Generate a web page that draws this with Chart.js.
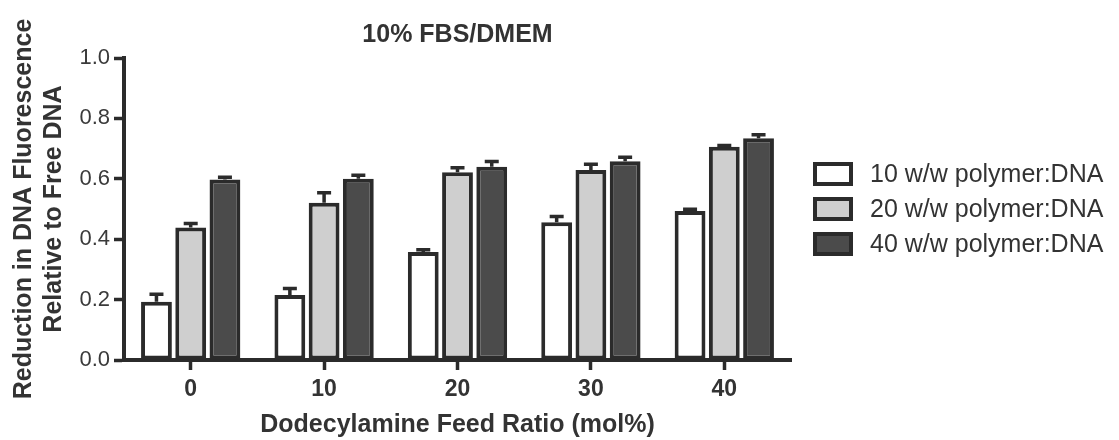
<!DOCTYPE html>
<html>
<head>
<meta charset="utf-8">
<script src="https://cdn.jsdelivr.net/npm/chart.js@4.4.1/dist/chart.umd.min.js"></script>
<style>
  body { margin: 0; background: #fff; }
</style>
</head>
<body>
<canvas id="fluorChart" width="1119" height="440"></canvas>
<script>
// feed ratio groups and the three polymer:DNA ratios
const feedRatios = ['0', '10', '20', '30', '40'];
const yTickLabels = ['0.0', '0.2', '0.4', '0.6', '0.8', '1.0'];

const ww10 = [0.193, 0.215, 0.358, 0.456, 0.493];
const ww10Err = [0.025, 0.022, 0.007, 0.019, 0.006];
const ww20 = [0.439, 0.521, 0.622, 0.629, 0.706];
const ww20Err = [0.013, 0.033, 0.015, 0.019, 0.004];
const ww40 = [0.598, 0.600, 0.640, 0.658, 0.734];
const ww40Err = [0.007, 0.012, 0.017, 0.013, 0.012];

const FONT = '"Liberation Sans", Arial, sans-serif';
const INK = '#2b2b2b';

// upper error bars (SD) on top of each bar
const errorBars = {
  id: 'errorBars',
  afterDatasetsDraw(chart) {
    const { ctx } = chart;
    const yScale = chart.scales.y;
    chart.data.datasets.forEach((ds, i) => {
      const meta = chart.getDatasetMeta(i);
      meta.data.forEach((bar, j) => {
        const top = yScale.getPixelForValue(ds.data[j] + ds.errors[j]);
        ctx.save();
        ctx.strokeStyle = INK;
        ctx.lineWidth = 3.5;
        ctx.beginPath();
        ctx.moveTo(bar.x, bar.y);
        ctx.lineTo(bar.x, top);
        ctx.moveTo(bar.x - 7, top);
        ctx.lineTo(bar.x + 7, top);
        ctx.stroke();
        ctx.restore();
      });
    });
  }
};

// legend to the right of the plot
const sideLegend = {
  id: 'sideLegend',
  afterDraw(chart) {
    const { ctx, chartArea } = chart;
    const sets = chart.data.datasets;
    const rowH = 35;
    const x = chartArea.right + 22;
    let y = (chartArea.top + chartArea.bottom) / 2 - rowH * (sets.length - 1) / 2;
    sets.forEach(ds => {
      ctx.save();
      ctx.fillStyle = ds.backgroundColor;
      ctx.fillRect(x, y - 12, 40, 24);
      ctx.lineWidth = 4;
      ctx.strokeStyle = ds.borderColor;
      ctx.strokeRect(x + 2, y - 10, 36, 20);
      ctx.fillStyle = '#333';
      ctx.font = '25px ' + FONT;
      ctx.textBaseline = 'middle';
      ctx.fillText(ds.label, x + 57, y + 1);
      ctx.restore();
      y += rowH;
    });
  }
};

const barStyle = {
  borderColor: INK,
  borderWidth: 4,
  borderSkipped: false,
  barPercentage: 0.9,
  categoryPercentage: 0.77
};

new Chart(document.getElementById('fluorChart'), {
  type: 'bar',
  data: {
    labels: feedRatios,
    datasets: [
      { label: '10 w/w polymer:DNA', data: ww10, errors: ww10Err, backgroundColor: '#ffffff', ...barStyle },
      { label: '20 w/w polymer:DNA', data: ww20, errors: ww20Err, backgroundColor: '#cfcfcf', ...barStyle },
      { label: '40 w/w polymer:DNA', data: ww40, errors: ww40Err, backgroundColor: '#4b4b4b', ...barStyle }
    ]
  },
  options: {
    responsive: false,
    animation: false,
    layout: { padding: { top: 0, right: 328, bottom: 0, left: 0 } },
    plugins: {
      legend: { display: false },
      tooltip: { enabled: false },
      title: {
        display: true,
        text: '10% FBS/DMEM',
        fullSize: false,
        color: '#333',
        font: { family: FONT, size: 25, weight: 'bold' },
        padding: { top: 20, bottom: 8 }
      }
    },
    scales: {
      x: {
        afterFit: s => { s.height = 80; },
        grid: { display: true, drawOnChartArea: false, offset: false, tickLength: 10, tickWidth: 3.5, tickColor: INK },
        border: { display: true, color: INK, width: 4 },
        ticks: { color: '#333', padding: 6, font: { family: FONT, size: 23, weight: 'bold' } },
        title: {
          display: true,
          text: 'Dodecylamine Feed Ratio (mol%)',
          color: '#333',
          font: { family: FONT, size: 25, weight: 'bold' },
          padding: { top: 0, bottom: 0 }
        }
      },
      y: {
        min: 0,
        max: 1,
        afterFit: s => { s.width = 124; },
        grid: { display: true, drawOnChartArea: false, tickLength: 10, tickWidth: 3.5, tickColor: INK },
        border: { display: true, color: INK, width: 4 },
        ticks: {
          stepSize: 0.2,
          padding: 4,
          color: '#3a3a3a',
          font: { family: FONT, size: 22 },
          callback: (v, i) => yTickLabels[i]
        },
        title: {
          display: true,
          text: ['Reduction in DNA Fluorescence', 'Relative to Free DNA'],
          color: '#333',
          font: { family: FONT, size: 25, weight: 'bold', lineHeight: 1.2 },
          padding: { top: 9, bottom: 0 }
        }
      }
    }
  },
  plugins: [errorBars, sideLegend]
});
</script>
</body>
</html>
